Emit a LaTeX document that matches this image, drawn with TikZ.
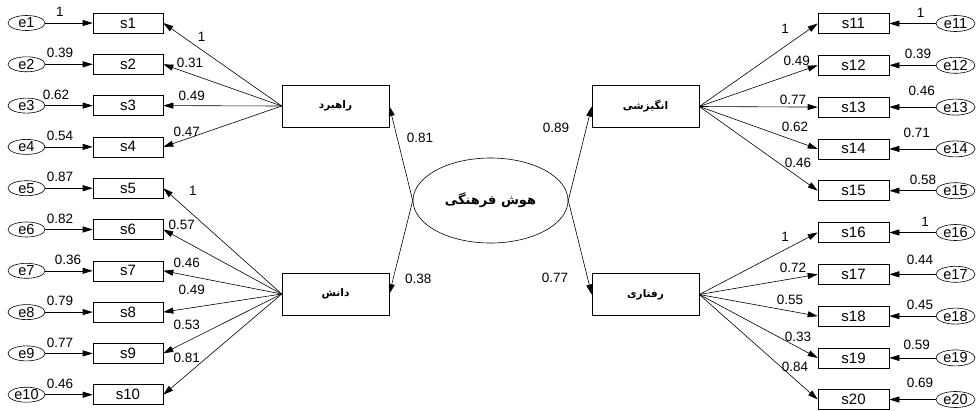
\documentclass[tikz,border=0pt]{standalone}
\usepackage{fontspec}
\setmainfont{Liberation Sans}
\newfontfamily\arabicfont[Script=Arabic]{DejaVu Sans}
\TeXXeTstate=1
\usetikzlibrary{arrows.meta,shapes.geometric}
\begin{document}
\begin{tikzpicture}[x=1pt,y=-1pt,
 obs/.style={draw,line width=0.6pt,minimum width=70pt,minimum height=20pt,inner sep=0pt,font=\fontsize{15}{17}\selectfont},
 err/.style={draw,line width=0.6pt,ellipse,minimum width=37pt,minimum height=15pt,inner sep=0pt,font=\fontsize{14.5}{16}\selectfont},
 lat/.style={draw,line width=0.6pt,minimum width=107pt,minimum height=42pt,inner sep=0pt,font=\arabicfont\bfseries\fontsize{10.5}{12}\selectfont},
 num/.style={font=\fontsize{13.5}{15}\selectfont,inner sep=0pt},
 arr/.style={-{Triangle[length=10pt,width=6pt]},line width=0.6pt}]
\useasboundingbox (0,0) rectangle (979,410);

% latent variables
\node[lat] (rahbord) at (335.5,106) {\beginR راهبرد\endR};
\node[lat] (danesh) at (335.5,294) {\beginR دانش\endR};
\node[lat] (angizeshi) at (645.5,106.5) {\beginR انگیزشی\endR};
\node[lat] (raftari) at (645.5,294.5) {\beginR رفتاری\endR};
\node[draw,line width=0.6pt,ellipse,minimum width=155pt,minimum height=85pt,inner sep=0pt,font=\arabicfont\bfseries\fontsize{13}{15}\selectfont] (hush) at (490.5,200.5) {\beginR هوش فرهنگی\endR};

\draw[arr] (hush.west) -- (rahbord.east);
\draw[arr] (hush.west) -- (danesh.east);
\draw[arr] (hush.east) -- (angizeshi.west);
\draw[arr] (hush.east) -- (raftari.west);
\node[num] (c1) at (420,138) {0.81};
\node[num] (c2) at (418.3,279) {0.38};
\node[num] (c3) at (556,128) {0.89};
\node[num] (c4) at (555,278) {0.77};

% left indicators
\foreach \i/\y/\ex/\et/\lx/\ly/\lt in {
 1/23/60/1/201.7/37/1,
 2/64.3/60/0.39/190/63/0.31,
 3/105.6/56/0.62/191.7/96/0.49,
 4/146.9/60/0.54/186.7/131.7/0.47,
 5/188.2/60/0.87/193/190.7/1,
 6/229.5/60/0.82/181.7/225/0.57,
 7/270.8/68/0.36/186.7/263/0.46,
 8/312.1/60/0.79/191.7/290/0.49,
 9/353.4/60/0.77/186.7/325/0.53,
 10/394.7/60/0.46/186.7/358/0.81}{
 \node[obs] (s\i) at (128,\y) {s\i};
 \node[err] (e\i) at (26.5,\y) {e\i};
 \draw[arr] (e\i) -- (s\i);
 \node[num] (le\i) at (\ex,\y-11) {\et};
 \node[num] (ll\i) at (\lx,\ly) {\lt};
}
\foreach \i in {1,...,4}{\draw[arr] (rahbord.west) -- (s\i.east);}
\foreach \i in {5,...,10}{\draw[arr] (danesh.west) -- (s\i.east);}

% right indicators
\foreach \i/\y/\ex/\ey/\et/\lx/\ly/\lt in {
 11/23.5/920.7/12.7/1/785/29/1,
 12/65.3/918/54/0.39/796.7/61/0.49,
 13/107.1/921.7/90.7/0.46/793/100/0.77,
 14/148.9/916.7/133/0.71/795/126.7/0.62,
 15/190.7/923/180/0.58/798/162.7/0.46,
 16/232.5/925/221.7/1/785/236.7/1,
 17/274.3/920/260/0.44/793/268/0.72,
 18/316.1/920/305/0.45/790/300/0.55,
 19/357.9/916.7/345/0.59/798/336.7/0.33,
 20/399.5/920/383/0.69/795/366.7/0.84}{
 \node[obs,minimum width=71pt] (s\i) at (853.5,\y) {s\i};
 \node[err,minimum width=39pt,minimum height=16pt] (e\i) at (955.5,\y) {e\i};
 \draw[arr] (e\i) -- (s\i);
 \node[num] (le\i) at (\ex,\ey) {\et};
 \node[num] (ll\i) at (\lx,\ly) {\lt};
}
\foreach \i in {11,...,15}{\draw[arr] (angizeshi.east) -- (s\i.west);}
\foreach \i in {16,...,20}{\draw[arr] (raftari.east) -- (s\i.west);}
\end{tikzpicture}
\end{document}
